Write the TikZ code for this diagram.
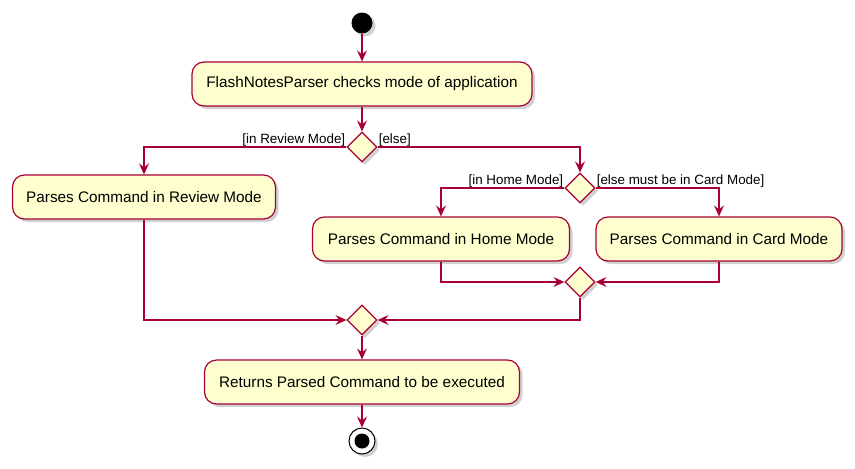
\documentclass[tikz,border=0pt]{standalone}
\usepackage{fontspec}
\setmainfont{Liberation Sans}
\usetikzlibrary{shapes.geometric,arrows.meta,shadows}
\definecolor{pfill}{HTML}{FEFECE}
\definecolor{pline}{HTML}{A80036}
\begin{document}
\begin{tikzpicture}[x=1pt,y=-1pt,
  shd/.style={drop shadow={shadow xshift=3pt,shadow yshift=-3pt,opacity=0.3,fill=black!60}},
  act/.style={draw=pline,fill=pfill,line width=1.2pt,rounded corners=12pt,minimum height=44pt,inner sep=0pt,font=\fontsize{15.3}{17}\selectfont,shd},
  dia/.style={diamond,draw=pline,fill=pfill,line width=1.2pt,minimum width=30pt,minimum height=30pt,inner sep=0pt,shd},
  lbl/.style={font=\fontsize{13.4}{15}\selectfont,inner sep=1pt},
  flow/.style={draw=pline,line width=1.2pt,-{Stealth[length=11pt,width=10pt,inset=4pt]}},
]
\useasboundingbox (0,0) rectangle (855,469);
\node[circle,fill=black,minimum size=21pt,inner sep=0pt,shd] (start) at (362,23) {};
\node[act,minimum width=340pt] (b1) at (362,84) {FlashNotesParser checks mode of application};
\node[dia] (d1) at (362,147) {};
\node[act,minimum width=263pt] (rev) at (144,197) {Parses Command in Review Mode};
\node[dia] (d2) at (580,188) {};
\node[act,minimum width=257pt] (home) at (441,239) {Parses Command in Home Mode};
\node[act,minimum width=246pt] (card) at (719,239) {Parses Command in Card Mode};
\node[dia] (d3) at (580,282) {};
\node[dia] (d4) at (362,320) {};
\node[act,minimum width=315pt] (b5) at (362,382) {Returns Parsed Command to be executed};
\node[circle,draw=black,line width=1pt,fill=white,minimum size=26pt,inner sep=0pt,shd,
  path picture={\fill[black] (path picture bounding box.center) circle (7.5pt);}] (end) at (362,441) {};

\node[lbl,anchor=south east] (l1) at (d1.west) {[in Review Mode]};
\node[lbl,anchor=south west] (l2) at (d1.east) {[else]};
\node[lbl,anchor=south east] (l3) at (d2.west) {[in Home Mode]};
\node[lbl,anchor=south west] (l4) at (d2.east) {[else must be in Card Mode]};

\draw[flow] (start) -- (b1);
\draw[flow] (b1) -- (d1);
\draw[flow] (d1.west) -| (rev.north);
\draw[flow] (d1.east) -| (d2.north);
\draw[flow] (d2.west) -| (home.north);
\draw[flow] (d2.east) -| (card.north);
\draw[flow] (home.south) |- (d3.west);
\draw[flow] (card.south) |- (d3.east);
\draw[flow] (rev.south) |- (d4.west);
\draw[flow] (d3.south) |- (d4.east);
\draw[flow] (d4) -- (b5);
\draw[flow] (b5) -- (end);
\end{tikzpicture}
\end{document}
